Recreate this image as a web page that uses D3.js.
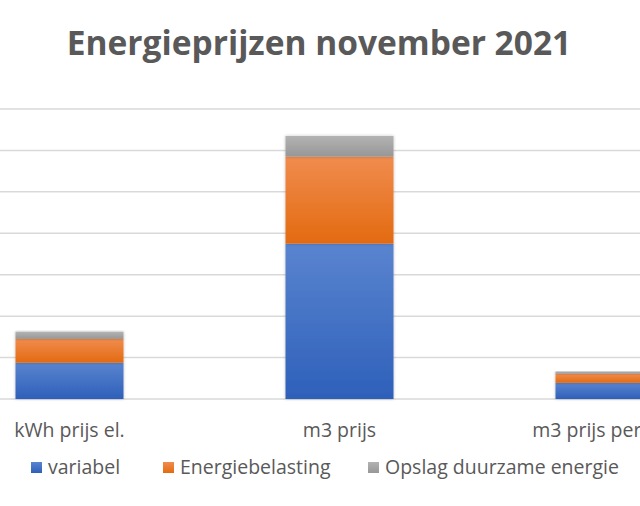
<!DOCTYPE html>
<html>
<head>
<meta charset="utf-8">
<script src="https://cdn.jsdelivr.net/npm/d3@7"></script>
<style>
  body { margin: 0; background: #fff; }
  svg { display: block; }
  text { font-family: "Open Sans", sans-serif; fill: #595959; }
</style>
</head>
<body>
<svg id="chart" width="640" height="506"></svg>
<script>
// data
var categories = ['kWh prijs el.', 'm3 prijs', 'm3 prijs per kWh'];
var variabel = [0.175, 0.75, 0.078];
var energiebelasting = [0.115, 0.42, 0.044];
var opslag = [0.035, 0.10, 0.011];
var seriesNames = ['variabel', 'Energiebelasting', 'Opslag duurzame energie'];
var yTicks = [0, 0.2, 0.4, 0.6, 0.8, 1.0, 1.2, 1.4];

var svg = d3.select('#chart');
var width = 640;

var rows = categories.map(function(c, i) {
    return { cat: c, variabel: variabel[i], Energiebelasting: energiebelasting[i], 'Opslag duurzame energie': opslag[i] };
});

var x = d3.scaleBand().domain(categories).range([-65.5, 744.5]).paddingInner(0.6).paddingOuter(0.3);
var y = d3.scaleLinear().domain([0, 1.4]).range([399, 109]);

// gradients like the office chart style
var colors = [
    ['#5a84cf', '#2e60ba'],
    ['#f08c4e', '#e36a10'],
    ['#b3b3b3', '#979797']
];
var defs = svg.append('defs');
colors.forEach(function(c, i) {
    var g = defs.append('linearGradient').attr('id', 'grad' + i)
        .attr('x1', 0).attr('y1', 0).attr('x2', 0).attr('y2', 1);
    g.append('stop').attr('offset', '0%').attr('stop-color', c[0]);
    g.append('stop').attr('offset', '100%').attr('stop-color', c[1]);
});
var f = defs.append('filter').attr('id', 'shadow').attr('x', '-10%').attr('y', '-10%').attr('width', '130%').attr('height', '130%');
f.append('feDropShadow').attr('dx', 0).attr('dy', 0).attr('stdDeviation', 1.5).attr('flood-color', '#000').attr('flood-opacity', 0.25);

// title
svg.append('text')
    .attr('x', 319).attr('y', 55)
    .attr('text-anchor', 'middle')
    .style('font-size', '33.5px')
    .style('font-weight', 'bold')
    .text('Energieprijzen november 2021');

// gridlines
svg.append('g').selectAll('line').data(yTicks).enter().append('line')
    .attr('x1', 0).attr('x2', width)
    .attr('y1', function(d) { return y(d); })
    .attr('y2', function(d) { return y(d); })
    .attr('stroke', '#d9d9d9').attr('stroke-width', 1.5);

// stacked bars
var stack = d3.stack().keys(seriesNames)(rows);
var layers = svg.append('g').selectAll('g').data(stack).enter().append('g')
    .attr('fill', function(d, i) { return 'url(#grad' + i + ')'; });
layers.selectAll('rect').data(function(d) { return d; }).enter().append('rect')
    .attr('x', function(d) { return x(d.data.cat); })
    .attr('width', x.bandwidth())
    .attr('y', function(d) { return y(d[1]); })
    .attr('height', function(d) { return y(d[0]) - y(d[1]); })
    .attr('filter', 'url(#shadow)');

// category labels
svg.append('g').selectAll('text').data(categories).enter().append('text')
    .attr('x', function(d) { return x(d) + x.bandwidth() / 2; })
    .attr('y', 437)
    .attr('text-anchor', 'middle')
    .style('font-size', '19.5px')
    .text(function(d) { return d; });

// legend
var legendX = [31, 163, 368];
var legend = svg.append('g').selectAll('g').data(seriesNames).enter().append('g')
    .attr('transform', function(d, i) { return 'translate(' + legendX[i] + ',462)'; });
legend.append('rect').attr('width', 11).attr('height', 11)
    .attr('fill', function(d, i) { return 'url(#grad' + i + ')'; });
legend.append('text').attr('x', 17).attr('y', 12)
    .style('font-size', '19.5px')
    .text(function(d) { return d; });
</script>
</body>
</html>
